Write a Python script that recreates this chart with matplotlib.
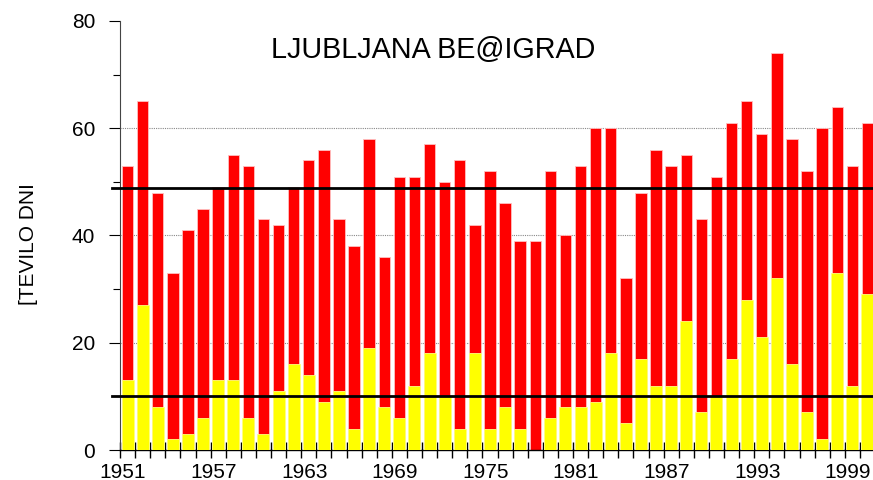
import matplotlib
matplotlib.use("Agg")
import matplotlib.pyplot as plt
import numpy as np

years = list(range(1951, 2001))
total_days = [53, 65, 48, 33, 41, 45, 49, 55, 53, 43,
              42, 49, 54, 56, 43, 38, 58, 36, 51, 51,
              57, 50, 54, 42, 52, 46, 39, 39, 52, 40,
              53, 60, 60, 32, 48, 56, 53, 55, 43, 51,
              61, 65, 59, 74, 58, 52, 60, 64, 53, 61]
yellow_days = [13, 27, 8, 2, 3, 6, 13, 13, 6, 3,
               11, 16, 14, 9, 11, 4, 19, 8, 6, 12,
               18, 10, 4, 18, 4, 8, 4, 0, 6, 8,
               8, 9, 18, 5, 17, 12, 12, 24, 7, 10,
               17, 28, 21, 32, 16, 7, 2, 33, 12, 29]
mean_total = 48.8
mean_yellow = 10.1
title = "LJUBLJANA BE@IGRAD"
ylabel = "[TEVILO DNI"
xtick_years = list(range(1951, 2001, 6))
ytick_vals = [0, 20, 40, 60, 80]

plt.rcParams['font.family'] = ['Liberation Sans', 'DejaVu Sans']

fig = plt.figure(figsize=(8.73, 4.8), dpi=100)
ax = fig.add_axes([120/873, 30/480, 755/873, 429/480])

ax.bar(years, total_days, width=0.76, color='#ff0000', edgecolor='#ffc0c0', linewidth=0.6, zorder=2)
ax.bar(years, yellow_days, width=0.8, color='#ffff00', edgecolor='#ffff80', linewidth=0.6, zorder=3)

ax.axhline(mean_total, xmin=-0.01, xmax=1, color='black', lw=2, zorder=4, clip_on=False)
ax.axhline(mean_yellow, xmin=-0.01, xmax=1, color='black', lw=2, zorder=4, clip_on=False)

for v in [20, 40, 60]:
    ax.axhline(v, color='#888888', lw=0.8, ls=(0, (1, 1)), zorder=1)

ax.set_xlim(1950.5, 2000.5)
ax.set_ylim(0, 80)
ax.set_yticks(ytick_vals)
ax.set_yticks([10, 30, 50, 70], minor=True)
ax.set_xticks([y - 0.3 for y in xtick_years])
ax.set_xticklabels([str(y) for y in xtick_years])
ax.set_xticks(np.arange(1950.5, 2001, 1.0), minor=True)

ax.tick_params(axis='x', which='major', length=0, pad=9, labelsize=15)
ax.tick_params(axis='x', which='minor', direction='inout', length=12, width=1)
ax.tick_params(axis='y', which='major', direction='out', length=8, width=0.8, pad=10, labelsize=15)
ax.tick_params(axis='y', which='minor', direction='out', length=5, width=0.8)

for s in ['top', 'right']:
    ax.spines[s].set_visible(False)
ax.spines['left'].set_color('#444444')
ax.spines['left'].set_linewidth(0.8)
ax.spines['bottom'].set_linewidth(1.0)

ax.set_ylabel(ylabel, fontsize=15)
ax.yaxis.set_label_coords(-0.1086, 0.48)
ax.text(0.415, 0.932, title, transform=ax.transAxes, ha='center', va='center', fontsize=20.7, zorder=5)

fig.savefig('out.png', dpi=100)
